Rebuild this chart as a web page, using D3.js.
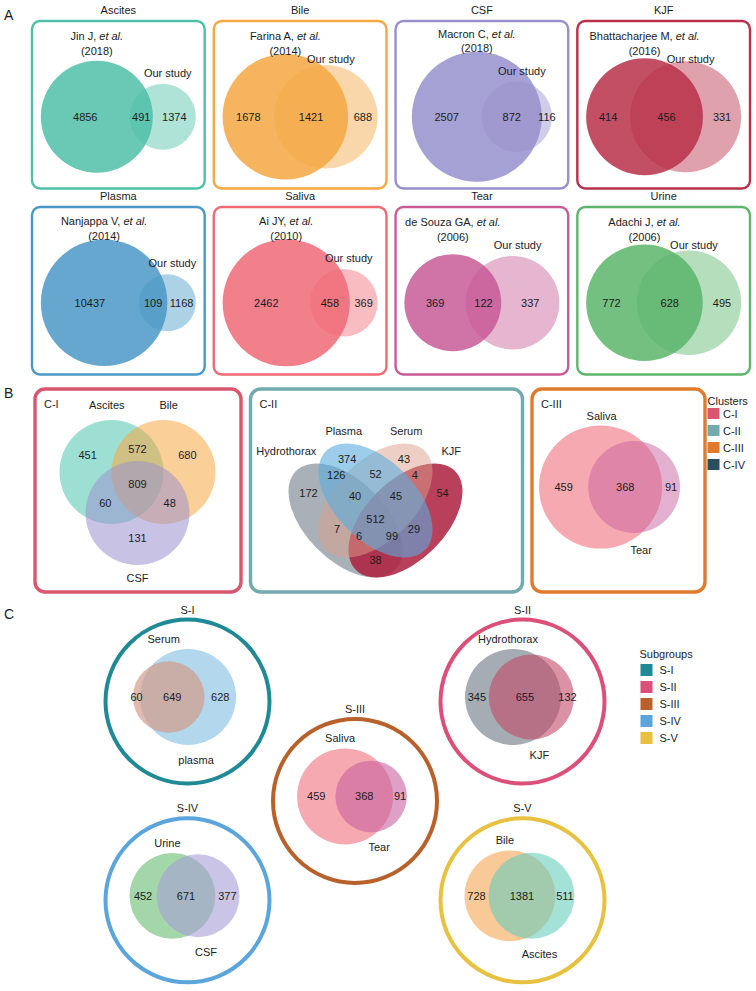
<!DOCTYPE html>
<html><head><meta charset="utf-8">
<script src="https://cdn.jsdelivr.net/npm/d3@7/dist/d3.min.js"></script>
<style>
body{margin:0;background:#fff}
svg{display:block}
text{font-family:"Liberation Sans",Arial,Helvetica,sans-serif;fill:#1c1c1c}
</style></head>
<body><svg id="chart" width="756" height="991"></svg>
<script>
// ================= DATA =================
// Panel A: published datasets vs. our study
const fluidsA = ["Ascites","Bile","CSF","KJF","Plasma","Saliva","Tear","Urine"];
const refAuthorsA = ["Jin J","Farina A","Macron C","Bhattacharjee M","Nanjappa V","Ai JY","de Souza GA","Adachi J"];
const refYearsA = ["2018","2014","2018","2016","2014","2010","2006","2006"];
const refOnlyA = [4856,1678,2507,414,10437,2462,369,772];
const sharedA = [491,1421,872,456,109,458,122,628];
const studyOnlyA = [1374,688,116,331,1168,369,337,495];
const colorsA = ["#4fc0a8","#f5a742","#9790cc","#b8304a","#4a98c6","#f06a75","#c85b97","#5cb56b"];

// Panel B: clusters
const clusters = ["C-I","C-II","C-III","C-IV"];
const clusterColors = ["#d9566e","#72aaad","#e07b2e","#284f5e"];
const c1Sets = ["Ascites","Bile","CSF"];
const c1Keys = ["A","B","C","AB","AC","BC","ABC"];
const c1Values = [451,680,131,572,60,48,809];
const c1Fills = ["#4cc5ad","#f7a843","#9b92cf"];
const c2Sets = ["Hydrothorax","Plasma","Serum","KJF"];
const c2Keys = ["H","P","S","K","HP","HS","HK","PS","PK","SK","HPS","HPK","HSK","PSK","HPSK"];
const c2Values = [172,374,43,54,126,7,38,52,29,4,40,99,6,45,512];
const c2Fills = ["#7b8691","#5aaee0","#dc9f8c","#ad1f3d"];
const c3Sets = ["Saliva","Tear"];
const c3Values = [459,368,91];
const c3Fills = ["#f2858e","#c8639f"];

// Panel C: subgroups
const subgroups = ["S-I","S-II","S-III","S-IV","S-V"];
const subgroupColors = ["#1f8a96","#dc4f79","#b9612b","#5ba5dc","#e8c140"];
const subSetA = ["Serum","Hydrothorax","Saliva","Urine","Bile"];
const subSetB = ["plasma","KJF","Tear","CSF","Ascites"];
const subOnlyA = [60,345,459,452,728];
const subShared = [649,655,368,671,1381];
const subOnlyB = [628,132,91,377,511];
const subFillA = ["#d39d8c","#7f8993","#f2858e","#7cc584","#f8b26c"];
const subFillB = ["#80bde0","#c24a67","#c8639f","#a69fd5","#68cdbd"];

// ================= LAYOUT HELPERS =================
const svg = d3.select("#chart");
const g0 = svg.append("g");

function txt(g, x, y, s, o = {}) {
  return g.append("text").attr("x", x).attr("y", y)
    .attr("text-anchor", o.anchor || "middle")
    .attr("dominant-baseline", "central")
    .attr("font-size", o.size || 11).text(s);
}
function lensArea(r1, r2, d) {
  if (d >= r1 + r2) return 0;
  if (d <= Math.abs(r1 - r2)) return Math.PI * Math.min(r1, r2) ** 2;
  const a1 = Math.acos((d * d + r1 * r1 - r2 * r2) / (2 * d * r1));
  const a2 = Math.acos((d * d + r2 * r2 - r1 * r1) / (2 * d * r2));
  return r1 * r1 * a1 + r2 * r2 * a2 - 0.5 * Math.sqrt((-d + r1 + r2) * (d + r1 - r2) * (d - r1 + r2) * (d + r1 + r2));
}
function solveD(r1, r2, target) {
  let lo = Math.abs(r1 - r2), hi = r1 + r2;
  for (let i = 0; i < 80; i++) {
    const m = (lo + hi) / 2;
    if (lensArea(r1, r2, m) > target) lo = m; else hi = m;
  }
  return (lo + hi) / 2;
}
// area-proportional two-set layout, fitted into W x H
function layout2(onlyA, both, onlyB, W, H, minRatio) {
  let rA = Math.sqrt((onlyA + both) / Math.PI), rB = Math.sqrt((onlyB + both) / Math.PI);
  let d = solveD(rA, rB, both);
  const big = Math.max(rA, rB), small = Math.min(rA, rB);
  if (minRatio && small / big < minRatio) {
    if (rA < rB) rA = big * minRatio; else rB = big * minRatio;
    d = big;
  }
  const left = Math.min(-rA, d - rB), right = Math.max(rA, d + rB);
  const h = 2 * Math.max(rA, rB);
  const k = Math.min(W / (right - left), H / h);
  const off = (left + right) / 2;
  return {rA: rA * k, rB: rB * k, xA: -off * k, xB: (d - off) * k};
}
function drawVenn2(g, cx, cy, L, fillA, fillB, opA, opB, vals) {
  const cA = {x: cx + L.xA, r: L.rA, f: fillA, o: opA};
  const cB = {x: cx + L.xB, r: L.rB, f: fillB, o: opB};
  const order = cA.r >= cB.r ? [cA, cB] : [cB, cA];
  g.selectAll(null).data(order).join("circle")
    .attr("cx", d => d.x).attr("cy", cy).attr("r", d => d.r)
    .attr("fill", d => d.f).attr("fill-opacity", d => d.o);
  const lA = cA.x - cA.r, lB = cB.x - cB.r, rA = cA.x + cA.r, rB = cB.x + cB.r;
  const xs = [(lA + lB) / 2, (lB + rA) / 2, (rA + rB) / 2];
  vals.forEach((v, i) => txt(g, xs[i], cy, v));
  return {xA: cA.x, xB: cB.x, rA: cA.r, rB: cB.r, cy};
}

// ================= PANEL A =================
txt(g0, 4, 15, "A", {anchor: "start", size: 14});
const colA = d3.scaleBand().domain(d3.range(4)).range([32, 750]).paddingInner(0.05);
const rowA = d3.scalePoint().domain([0, 1]).range([21, 207]);
const boxHA = 167.5;
fluidsA.forEach((f, i) => {
  const g = g0.append("g");
  const bx = colA(i % 4), bw = colA.bandwidth(), by = rowA(Math.floor(i / 4));
  const col = colorsA[i];
  txt(g, bx + bw / 2, by - 11, f);
  g.append("rect").attr("x", bx).attr("y", by).attr("width", bw).attr("height", boxHA)
    .attr("rx", 8).attr("fill", "none").attr("stroke", col).attr("stroke-width", 2.4);
  const cx = bx + bw / 2, cy = by + boxHA / 2 + 12;
  const L = layout2(refOnlyA[i], sharedA[i], studyOnlyA[i], 155, 130, 0.45);
  const V = drawVenn2(g, cx, cy, L, col, col, 0.85, 0.45, [refOnlyA[i], sharedA[i], studyOnlyA[i]]);
  const topA = cy - V.rA;
  const y1 = Math.max(by + 8, Math.min(by + 15, topA - 18));
  const t = g.append("text").attr("x", V.xA).attr("y", y1).attr("text-anchor", "middle")
    .attr("dominant-baseline", "central").attr("font-size", 11);
  t.append("tspan").text(refAuthorsA[i] + ", ");
  t.append("tspan").attr("font-style", "italic").text("et al.");
  txt(g, V.xA, y1 + 14.5, "(" + refYearsA[i] + ")");
  txt(g, V.xB + 5, Math.max(by + 38, cy - V.rB - 11), "Our study");
});

// ================= PANEL B =================
txt(g0, 4, 393, "B", {anchor: "start", size: 14});
const boxWidthsB = [206, 272, 173];
const boxX0B = 35, boxGapB = 9.5, boxTopB = 389, boxHB = 203;
const boxXB = boxWidthsB.map((w, i) => boxX0B + d3.sum(boxWidthsB.slice(0, i)) + i * boxGapB);
boxWidthsB.forEach((w, i) => {
  g0.append("rect").attr("x", boxXB[i]).attr("y", boxTopB).attr("width", w).attr("height", boxHB)
    .attr("rx", 10).attr("fill", "none").attr("stroke", clusterColors[i]).attr("stroke-width", 3.4);
  txt(g0, boxXB[i] + 9, boxTopB + 15, clusters[i], {anchor: "start"});
});

// C-I : three-set Venn
{
  const g = g0.append("g");
  const r = 52;
  const cx = boxXB[0] + boxWidthsB[0] / 2 - 0.5, cy = boxTopB + 83;
  const centers = [[-0.5, 0], [0.5, 0], [0, 0.79]];
  g.selectAll(null).data(c1Sets).join("circle")
    .attr("cx", (d, i) => cx + centers[i][0] * r).attr("cy", (d, i) => cy + centers[i][1] * r)
    .attr("r", r).attr("fill", (d, i) => c1Fills[i]).attr("fill-opacity", 0.55);
  const regionPos = {A: [-0.96, -0.33], B: [0.96, -0.33], C: [0, 1.27], AB: [0, -0.44],
    AC: [-0.62, 0.6], BC: [0.62, 0.6], ABC: [0, 0.23]};
  c1Keys.forEach((k, i) => txt(g, cx + regionPos[k][0] * r, cy + regionPos[k][1] * r, c1Values[i]));
  const labelPos = [[-0.59, -1.29], [0.6, -1.29], [0, 2.04]];
  c1Sets.forEach((s, i) => txt(g, cx + labelPos[i][0] * r, cy + labelPos[i][1] * r, s));
}

// C-II : four-set ellipse Venn
{
  const g = g0.append("g");
  const S = 200;
  const cx = boxXB[1] + boxWidthsB[1] / 2 - 11, cy = boxTopB + boxHB / 2 + 20;
  const ux = u => cx + (u - 0.5) * S, vy = v => cy - (v - 0.52) * S;
  const ell = [[0.35, 0.47, 45], [0.5, 0.57, 45], [0.5, 0.57, -45], [0.65, 0.47, -45]];
  const ops = [0.65, 0.6, 0.5, 0.85];
  const drawOrder = [0, 3, 2, 1];
  g.selectAll(null).data(drawOrder).join("ellipse")
    .attr("cx", i => ux(ell[i][0])).attr("cy", i => vy(ell[i][1]))
    .attr("rx", 0.35 * S).attr("ry", 0.2 * S)
    .attr("transform", i => `rotate(${ell[i][2]} ${ux(ell[i][0])} ${vy(ell[i][1])})`)
    .attr("fill", i => c2Fills[i]).attr("fill-opacity", i => ops[i]);
  const regionPos = {H: [0.165, 0.607], K: [0.835, 0.607], P: [0.358, 0.78], S: [0.642, 0.78],
    HP: [0.304, 0.70], SK: [0.696, 0.70], HS: [0.308, 0.428], PK: [0.692, 0.428],
    HPS: [0.398, 0.595], PSK: [0.602, 0.595], HSK: [0.418, 0.392], HPK: [0.582, 0.392],
    HK: [0.5, 0.273], PS: [0.5, 0.701], HPSK: [0.5, 0.476]};
  c2Keys.forEach((k, i) => txt(g, ux(regionPos[k][0]), vy(regionPos[k][1]), c2Values[i]));
  const labelPos = [[0.054, 0.8175], [0.3415, 0.919], [0.6535, 0.919], [0.8785, 0.8175]];
  c2Sets.forEach((s, i) => txt(g, ux(labelPos[i][0]), vy(labelPos[i][1]), s));
}

// C-III : two-set Venn
{
  const g = g0.append("g");
  const cx = boxXB[2] + boxWidthsB[2] / 2 - 9, cy = boxTopB + boxHB / 2 - 3.5;
  const L = layout2(c3Values[0], c3Values[1], c3Values[2], 141, 130);
  const V = drawVenn2(g, cx, cy, L, c3Fills[0], c3Fills[1], 0.7, 0.5, c3Values);
  txt(g, V.xA + 1, Math.min(cy - V.rA, cy - V.rB) - 9, c3Sets[0]);
  txt(g, V.xB + 7, cy + V.rB + 17, c3Sets[1]);
}

// Clusters legend
{
  const g = g0.append("g");
  const lx = 707.5, ly = 401, step = 17;
  txt(g, lx, ly, "Clusters", {anchor: "start"});
  clusters.forEach((c, i) => {
    const y = ly + 12.5 + i * step;
    g.append("rect").attr("x", lx).attr("y", y - 5.5).attr("width", 12).attr("height", 11).attr("fill", clusterColors[i]);
    txt(g, lx + 15.5, y, c, {anchor: "start"});
  });
}

// ================= PANEL C =================
txt(g0, 4, 614, "C", {anchor: "start", size: 14});
const ringCol = [0, 2, 1, 0, 2], ringRow = [0, 0, 1, 2, 2];
const ringX = d3.scaleLinear().domain([0, 2]).range([187.5, 522.5]);
const ringY = d3.scaleLinear().domain([0, 2]).range([701.5, 900.3]);
const ringR = 82;
subgroups.forEach((s, i) => {
  const g = g0.append("g");
  const rx = ringX(ringCol[i]), ry = ringY(ringRow[i]);
  g.append("circle").attr("cx", rx).attr("cy", ry).attr("r", ringR)
    .attr("fill", "none").attr("stroke", subgroupColors[i]).attr("stroke-width", 4);
  txt(g, rx, ry - 92, s);
  const cx = rx - 3, cy = ry - 4.5;
  const L = layout2(subOnlyA[i], subShared[i], subOnlyB[i], 110, 96);
  const V = drawVenn2(g, cx, cy, L, subFillA[i], subFillB[i], 0.7, 0.6, [subOnlyA[i], subShared[i], subOnlyB[i]]);
  txt(g, V.xA - 5, Math.min(cy - V.rA, cy - V.rB) - 10, subSetA[i]);
  txt(g, V.xB + 8, cy + V.rB + 15, subSetB[i]);
});

// Subgroups legend
{
  const g = g0.append("g");
  const lx = 639.5, ly = 654, step = 17;
  txt(g, lx, ly, "Subgroups", {anchor: "start"});
  subgroups.forEach((s, i) => {
    const y = ly + 16 + i * step;
    g.append("rect").attr("x", lx + 1).attr("y", y - 6).attr("width", 12).attr("height", 12).attr("fill", subgroupColors[i]);
    txt(g, lx + 20, y, s, {anchor: "start"});
  });
}
</script></body></html>
